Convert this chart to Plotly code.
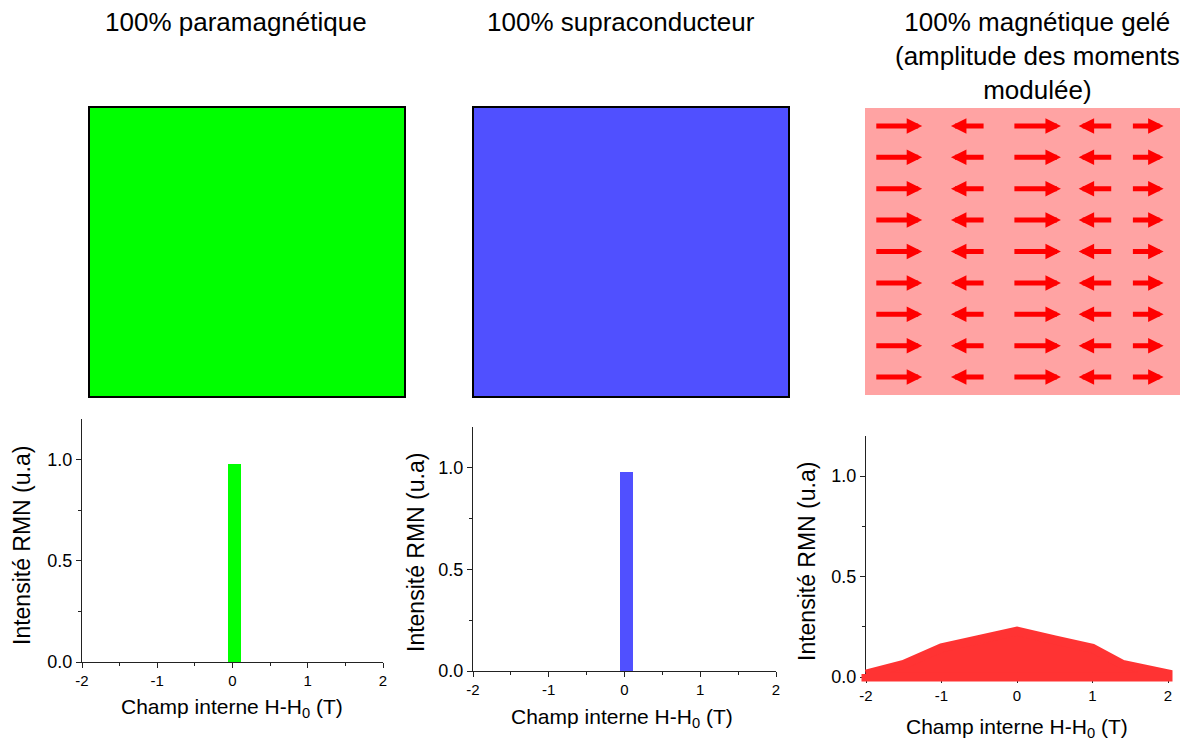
import plotly.graph_objects as go

# page offset of the plot inside the browser page (body margin)
OFF = 8
W, H = 1188 - OFF, 742 - OFF

# ---------------- data ----------------
titles = ["100% paramagnétique", "100% supraconducteur",
          "100% magnétique gelé<br>(amplitude des moments<br>modulée)"]
x_title = "Champ interne H-H<sub>0</sub> (T)"
y_title = "Intensité RMN (u.a)"

x_ticks = [-2, -1, 0, 1, 2]
x_ticktext = ["-2", "-1", "0", "1", "2"]
y_ticks = [0.0, 0.5, 1.0]
y_ticktext = ["0.0", "0.5", "1.0"]

# narrow NMR line (paramagnetic / superconducting)
line_center = [0.025]
line_width = 0.17
line_peak = [0.98]

# broad spectrum (frozen magnetic, modulated moments)
spec_field = [-2.0, -1.5, -1.0, -0.5, 0.0, 0.5, 1.0, 1.4, 2.0]
spec_int = [0.015, 0.063, 0.145, 0.19, 0.228, 0.185, 0.143, 0.063, 0.015]

# magnetic moments: site positions along a row, signed amplitudes, rows
site_pos = [0.53, 1.63, 2.72, 3.65, 4.47]
moment = [0.75, -0.54, 0.76, -0.54, 0.51]
rows = [1, 2, 3, 4, 5, 6, 7, 8, 9]

GREEN = "#00FF00"
BLUE = "#5050FF"
RED = "#FF3333"
PINK = "#FFA3A3"
ARROW = "#FF0000"
FONT = "Arial, Liberation Sans, sans-serif"


def px(x):
    return (x - OFF) / W


def py(y):
    return 1 - (y - OFF) / H


fig = go.Figure()

# plot area boxes in page pixels (left, right, top, bottom)
panels = [(82, 383, 419, 662), (473, 776, 427, 671), (866, 1168, 436, 677)]

axis_common = dict(showgrid=False, zeroline=False, showline=True,
                   linecolor="#222", linewidth=1.2, ticks="outside",
                   ticklen=5, tickwidth=1, tickcolor="#222",
                   automargin=False,
                   tickfont=dict(family=FONT, color="black"))

for i, (l, r, t, b) in enumerate(panels):
    sx = "" if i == 0 else str(i + 1)
    fig.update_layout(**{
        f"xaxis{sx}": dict(axis_common, domain=[px(l), px(r)], range=[-2, 2],
                           anchor=f"y{sx}", tickvals=x_ticks, ticktext=x_ticktext,
                           tickfont=dict(family=FONT, color="black", size=15),
                           minor=dict(ticks="outside", ticklen=3, tickcolor="#222",
                                      dtick=0.5, tick0=-2)),
        f"yaxis{sx}": dict(axis_common, domain=[py(b), py(t)], range=[0, 1.2],
                           anchor=f"x{sx}", tickvals=y_ticks, ticktext=y_ticktext,
                           tickfont=dict(family=FONT, color="black", size=18),
                           minor=dict(ticks="outside", ticklen=3, tickcolor="#222",
                                      dtick=0.25, tick0=0)),
    })

# narrow lines (bars)
for i, col in enumerate([GREEN, BLUE]):
    sx = "" if i == 0 else str(i + 1)
    fig.add_trace(go.Bar(x=line_center, y=[v + 0.025 for v in line_peak], base=[-0.025],
                         width=line_width, marker=dict(color=col, line=dict(width=0)),
                         cliponaxis=False, xaxis=f"x{sx}", yaxis=f"y{sx}",
                         showlegend=False, hoverinfo="skip"))

# keep the third subplot's axes drawn
fig.add_trace(go.Scatter(x=[0], y=[0.5], mode="markers", marker=dict(opacity=0),
                         xaxis="x3", yaxis="y3", showlegend=False, hoverinfo="skip"))

# broad spectrum on a separate axis with the same scale but a little more room
l, r, t, b = panels[2]
pad = 14
sxu = (r - l) / 4.0
syu = (b - t) / 1.2
fig.update_layout(
    xaxis5=dict(domain=[px(l - pad), px(r + pad)], range=[-2 - pad / sxu, 2 + pad / sxu],
                visible=False, anchor="y5", automargin=False),
    yaxis5=dict(domain=[py(b + pad), py(t)], range=[-pad / syu, 1.2],
                visible=False, anchor="x5", automargin=False),
)
poly_x = spec_field + [spec_field[-1], spec_field[0], spec_field[0]]
poly_y = spec_int + [0, 0, spec_int[0]]
fig.add_trace(go.Scatter(x=poly_x, y=poly_y, mode="lines", fill="toself",
                         fillcolor=RED, line=dict(color=RED, width=9),
                         xaxis="x5", yaxis="y5", showlegend=False, hoverinfo="skip"))

# top sample boxes
fig.add_shape(type="rect", xref="paper", yref="paper", x0=px(89), x1=px(405),
              y0=py(397), y1=py(107), fillcolor=GREEN, line=dict(color="black", width=2))
fig.add_shape(type="rect", xref="paper", yref="paper", x0=px(473), x1=px(789),
              y0=py(397), y1=py(107), fillcolor=BLUE, line=dict(color="black", width=2))
box3 = (865, 1181, 108, 395)
fig.add_shape(type="rect", xref="paper", yref="paper", x0=px(box3[0]), x1=px(box3[1]),
              y0=py(box3[3]), y1=py(box3[2]), fillcolor=PINK, line=dict(width=0),
              layer="below")

# axis for the moments
row_span = (box3[3] - box3[2]) / 31.4
fig.update_layout(
    xaxis4=dict(domain=[px(box3[0]), px(box3[1])], range=[0, 5], visible=False,
                anchor="y4", fixedrange=True, automargin=False),
    yaxis4=dict(domain=[py(box3[3]), py(box3[2])],
                range=[5 + row_span / 2, 5 - row_span / 2], visible=False,
                anchor="x4", fixedrange=True, automargin=False),
)
fig.add_trace(go.Scatter(x=[0], y=[5], mode="markers", marker=dict(opacity=0),
                         xaxis="x4", yaxis="y4", showlegend=False, hoverinfo="skip"))
for rw in rows:
    for s, m in zip(site_pos, moment):
        fig.add_annotation(x=s + m / 2, y=rw, ax=s - m / 2, ay=rw,
                           xref="x4", yref="y4", axref="x4", ayref="y4",
                           showarrow=True, arrowhead=2, arrowsize=0.62,
                           arrowwidth=5, arrowcolor=ARROW, text="", standoff=0)

# titles
for xc, txt in zip([236, 621, 1037], titles):
    fig.add_annotation(x=px(xc), y=py(5), xref="paper", yref="paper",
                       text=txt, showarrow=False, xanchor="center", yanchor="top",
                       font=dict(family=FONT, size=26, color="black"))

# axis titles
for xc, yc in [(232, 708), (622, 718), (1017, 728)]:
    fig.add_annotation(x=px(xc), y=py(yc), xref="paper", yref="paper",
                       text=x_title, showarrow=False, xanchor="center", yanchor="middle",
                       font=dict(family=FONT, size=21, color="black"))
for xc, yc in [(22, 546), (416, 553), (807, 562)]:
    fig.add_annotation(x=px(xc), y=py(yc), xref="paper", yref="paper",
                       text=y_title, showarrow=False, xanchor="center", yanchor="middle",
                       textangle=-90,
                       font=dict(family=FONT, size=23, color="black"))

fig.update_layout(width=W, height=H, margin=dict(l=0, r=0, t=0, b=0, autoexpand=False),
                  paper_bgcolor="white", plot_bgcolor="rgba(0,0,0,0)",
                  showlegend=False, bargap=0)

fig.write_html("out.html")
